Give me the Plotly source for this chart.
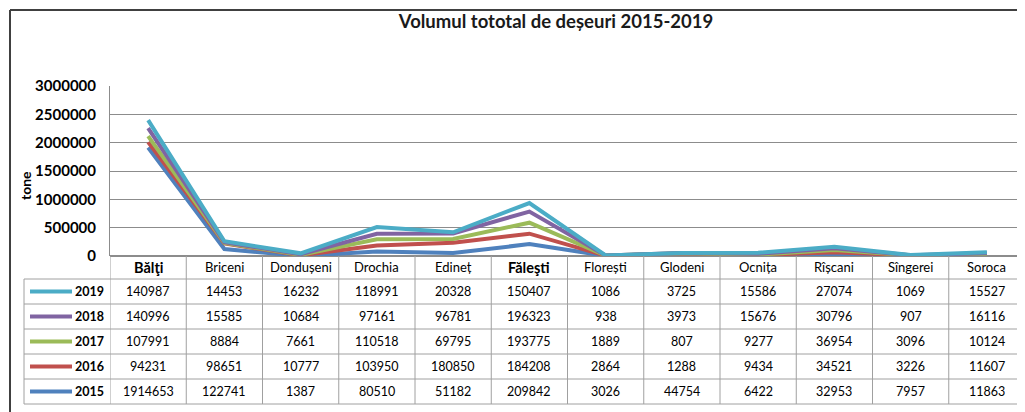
import plotly.graph_objects as go

districts = ["Bălţi", "Briceni", "Dondușeni", "Drochia", "Edineț", "Făleşti",
             "Florești", "Glodeni", "Ocnița", "Rîșcani", "Sîngerei", "Soroca"]
bold_districts = ["Bălţi", "Făleşti"]
years = ["2015", "2016", "2017", "2018", "2019"]
v2015 = [1914653, 122741, 1387, 80510, 51182, 209842, 3026, 44754, 6422, 32953, 7957, 11863]
v2016 = [94231, 98651, 10777, 103950, 180850, 184208, 2864, 1288, 9434, 34521, 3226, 11607]
v2017 = [107991, 8884, 7661, 110518, 69795, 193775, 1889, 807, 9277, 36954, 3096, 10124]
v2018 = [140996, 15585, 10684, 97161, 96781, 196323, 938, 3973, 15676, 30796, 907, 16116]
v2019 = [140987, 14453, 16232, 118991, 20328, 150407, 1086, 3725, 15586, 27074, 1069, 15527]
series = {"2015": v2015, "2016": v2016, "2017": v2017, "2018": v2018, "2019": v2019}
colors = {"2015": "#4F81BD", "2016": "#C0504D", "2017": "#9BBB59",
          "2018": "#8064A2", "2019": "#4BACC6"}
table_order = ["2019", "2018", "2017", "2016", "2015"]

# the page body adds an 8px offset; the figure fills the rest of the window
OFF = 8
WIN_W, WIN_H = 1025, 412
W, H = WIN_W - OFF, WIN_H - OFF
# plot area in window pixels
L, R, T, B = 110, 1025, 86, 256
FONT = "Lato"


def px_x(X):
    return (X - L) / (R - L)


def px_y(Y):
    return (B - Y) / (B - T)


xs = list(range(len(districts)))
fig = go.Figure()
for y in years:
    fig.add_trace(go.Scatter(
        x=xs, y=series[y], name=y, mode="lines", stackgroup="one", fill="none",
        line=dict(color=colors[y], width=4), showlegend=False))

shapes = []
annotations = []
grid_col = "#A0A0A0"

# chart frame
shapes.append(dict(type="line", xref="paper", yref="paper", x0=px_x(10), x1=px_x(1030),
                   y0=px_y(10), y1=px_y(10), line=dict(color="#404040", width=2)))
shapes.append(dict(type="line", xref="paper", yref="paper", x0=px_x(10), x1=px_x(10),
                   y0=px_y(10), y1=px_y(420), line=dict(color="#404040", width=2)))

# table geometry
header_bottom = 279
row_h = 25
rows_y = [header_bottom + row_h * i for i in range(len(table_order) + 1)]
for Y in rows_y:
    shapes.append(dict(type="line", xref="paper", yref="paper", x0=px_x(24), x1=1,
                       y0=px_y(Y), y1=px_y(Y), line=dict(color=grid_col, width=1)))
for k in range(len(districts) + 1):
    shapes.append(dict(type="line", xref="x", yref="paper", x0=k - 0.5, x1=k - 0.5,
                       y0=0, y1=px_y(rows_y[-1]), line=dict(color=grid_col, width=1)))
shapes.append(dict(type="line", xref="paper", yref="paper", x0=px_x(24), x1=px_x(24),
                   y0=px_y(header_bottom), y1=px_y(rows_y[-1]),
                   line=dict(color=grid_col, width=1)))

# header
for i, d in enumerate(districts):
    bold = d in bold_districts
    annotations.append(dict(x=i, xref="x", y=px_y(267), yref="paper",
                            xanchor="center", yanchor="middle",
                            text=f"<b>{d}</b>" if bold else d, showarrow=False,
                            font=dict(family=FONT, size=14.5 if bold else 13, color="#000")))

# rows
for r, yr in enumerate(table_order):
    Yc = header_bottom + row_h * r + row_h / 2
    shapes.append(dict(type="line", xref="paper", yref="paper", x0=px_x(30), x1=px_x(72),
                       y0=px_y(Yc), y1=px_y(Yc), line=dict(color=colors[yr], width=4)))
    annotations.append(dict(x=px_x(106), xref="paper", y=px_y(Yc), yref="paper",
                            text=f"<b>{yr}</b>", showarrow=False, xanchor="right",
                            yanchor="middle",
                            font=dict(family=FONT, size=12.5, color="#000")))
    for i, v in enumerate(series[yr]):
        annotations.append(dict(x=i, xref="x", y=px_y(Yc), yref="paper",
                                xanchor="center", yanchor="middle",
                                text=str(v), showarrow=False,
                                font=dict(family=FONT, size=12.5, color="#000")))

# y axis title
annotations.append(dict(x=px_x(25), xref="paper", y=px_y(186), yref="paper",
                        xanchor="center", yanchor="middle",
                        text="<b>tone</b>", showarrow=False, textangle=-90,
                        font=dict(family=FONT, size=14, color="#000")))

fig.update_layout(
    width=W, height=H,
    margin=dict(l=L - OFF, r=WIN_W - R, t=T - OFF, b=WIN_H - B, pad=0),
    paper_bgcolor="white", plot_bgcolor="white",
    title=dict(text="<b>Volumul tototal de deșeuri 2015-2019</b>",
               x=px_x(556), xref="paper", xanchor="center",
               y=1 - (22 - OFF) / H, yanchor="middle",
               font=dict(family=FONT, size=18.5, color="#1a1a1a")),
    xaxis=dict(range=[-0.5, len(districts) - 0.5], showticklabels=False, showgrid=False,
               zeroline=False, showline=False, fixedrange=True),
    yaxis=dict(range=[0, 3000000], dtick=500000, tickformat="d", showgrid=True,
               gridcolor="#8C8C8C", gridwidth=1, zeroline=True, zerolinecolor="#8C8C8C",
               showline=True, linecolor="#8C8C8C", ticks="", ticklen=0,
               ticklabelstandoff=10,
               tickfont=dict(family=FONT, size=15, color="#000", weight="bold"),
               fixedrange=True),
    shapes=shapes, annotations=annotations,
    showlegend=False,
)

fig.write_html("out.html")
